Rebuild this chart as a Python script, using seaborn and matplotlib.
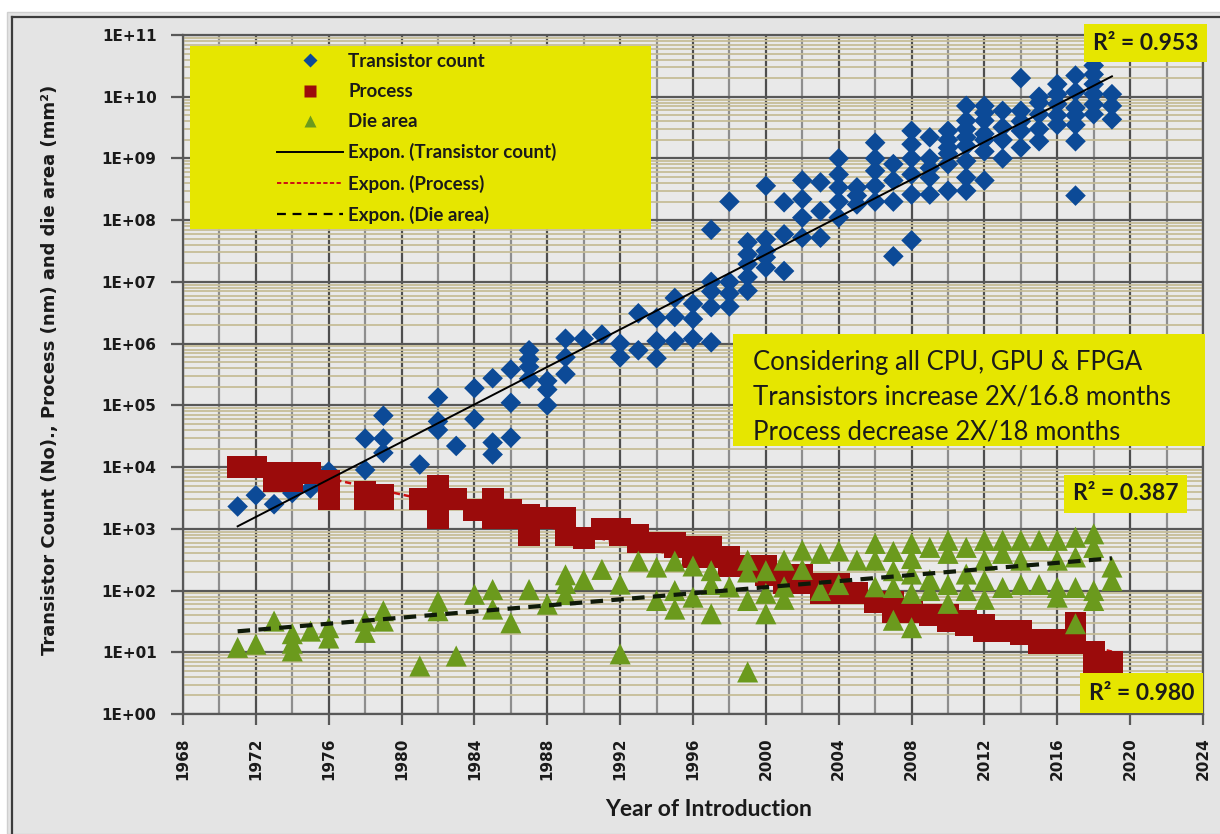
import numpy as np
import pandas as pd
import matplotlib
matplotlib.use("Agg")
import matplotlib.pyplot as plt
from matplotlib.patches import Rectangle
from matplotlib.lines import Line2D
from matplotlib.ticker import MultipleLocator, LogLocator, FuncFormatter, NullFormatter
import seaborn as sns

# ---------------- data ----------------
tc_year = [1971, 1972, 1973, 1974, 1975, 1976,
           1978, 1978, 1979, 1979, 1979, 1981, 1982, 1982, 1982, 1983,
           1984, 1984, 1985, 1985, 1985, 1986, 1986, 1986,
           1987, 1987, 1987, 1987, 1988, 1988, 1988, 1989, 1989, 1989,
           1990, 1991, 1992, 1992, 1993, 1993, 1994, 1994, 1994,
           1995, 1995, 1995, 1996, 1996, 1996,
           1997, 1997, 1997, 1997, 1997, 1998, 1998, 1998, 1998,
           1999, 1999, 1999, 1999, 1999, 2000, 2000, 2000, 2000, 2000,
           2001, 2001, 2001, 2002, 2002, 2002, 2002, 2003, 2003, 2003,
           2004, 2004, 2004, 2004, 2004, 2005, 2005, 2005,
           2006, 2006, 2006, 2006, 2006, 2007, 2007, 2007, 2007,
           2008, 2008, 2008, 2008, 2008, 2008, 2009, 2009, 2009, 2009, 2009,
           2010, 2010, 2010, 2010, 2010, 2010,
           2011, 2011, 2011, 2011, 2011, 2011, 2011, 2011,
           2012, 2012, 2012, 2012, 2012, 2012, 2012, 2013, 2013, 2013, 2013,
           2014, 2014, 2014, 2014, 2014, 2015, 2015, 2015, 2015, 2015,
           2016, 2016, 2016, 2016, 2016, 2017, 2017, 2017, 2017, 2017, 2017, 2017,
           2018, 2018, 2018, 2018, 2018, 2018, 2019, 2019, 2019]
tc_count = [2.3e3, 3.5e3, 2.5e3, 3.8e3, 4.5e3, 8.5e3,
            2.9e4, 9.0e3, 6.8e4, 2.9e4, 1.7e4, 1.1e4, 1.34e5, 5.5e4, 4.0e4, 2.2e4,
            1.9e5, 6.0e4, 2.75e5, 2.5e4, 1.6e4, 3.8e5, 1.1e5, 3.0e4,
            7.8e5, 5.6e5, 4.2e5, 2.7e5, 2.5e5, 1.8e5, 1.0e5, 1.2e6, 6.0e5, 3.2e5,
            1.2e6, 1.4e6, 1.0e6, 6.0e5, 3.1e6, 7.8e5, 2.6e6, 1.1e6, 5.8e5,
            5.5e6, 2.7e6, 1.1e6, 4.4e6, 2.5e6, 1.2e6,
            7.0e7, 1.0e7, 7.0e6, 3.9e6, 1.05e6, 2.0e8, 1.0e7, 6.5e6, 4.0e6,
            4.4e7, 2.8e7, 1.95e7, 1.2e7, 7.2e6, 3.6e8, 4.9e7, 3.2e7, 2.5e7, 1.7e7,
            1.95e8, 5.9e7, 1.5e7, 4.4e8, 2.2e8, 1.1e8, 5.2e7, 4.1e8, 1.4e8, 5.2e7,
            1.0e9, 5.5e8, 3.4e8, 2.0e8, 1.1e8, 3.4e8, 2.5e8, 1.8e8,
            1.8e9, 1.0e9, 6.3e8, 3.6e8, 2.0e8, 8.1e8, 4.4e8, 2.0e8, 2.6e7,
            2.8e9, 1.7e9, 1.0e9, 5.5e8, 2.6e8, 4.7e7, 2.2e9, 1.0e9, 7.0e8, 4.9e8, 2.6e8,
            2.8e9, 2.0e9, 1.5e9, 1.2e9, 8.1e8, 3.0e8,
            7.1e9, 4.1e9, 3.0e9, 2.2e9, 1.6e9, 9.1e8, 4.9e8, 3.0e8,
            7.1e9, 5.5e9, 4.1e9, 2.5e9, 2.0e9, 1.3e9, 4.4e8, 5.9e9, 3.2e9, 2.0e9, 1.0e9,
            2.0e10, 5.9e9, 4.0e9, 2.8e9, 1.5e9, 1.0e10, 8.0e9, 5.2e9, 3.0e9, 1.9e9,
            1.6e10, 1.1e10, 7.6e9, 5.0e9, 3.5e9, 2.2e10, 1.2e10, 6.6e9, 5.0e9, 3.5e9, 1.9e9, 2.5e8,
            3.2e10, 2.3e10, 1.6e10, 1.1e10, 7.5e9, 5.2e9, 1.1e10, 7.1e9, 4.3e9]

proc_year = [1971, 1972, 1973, 1973, 1974, 1974, 1975, 1976, 1976,
             1978, 1978, 1979, 1979, 1981, 1982, 1982, 1982, 1983, 1984,
             1985, 1985, 1986, 1986, 1987, 1987, 1988, 1989, 1989, 1990, 1991,
             1992, 1992, 1993, 1993, 1994, 1995, 1995, 1996, 1996, 1997, 1997,
             1998, 1998, 1999, 2000, 2000, 2001, 2001, 2002, 2002, 2003, 2003,
             2004, 2004, 2005, 2006, 2007, 2007, 2008, 2009, 2010, 2010,
             2011, 2011, 2012, 2012, 2013, 2014, 2014, 2015, 2015, 2016, 2016,
             2017, 2017, 2018, 2018, 2019, 2019]
proc_nm = [10000, 10000, 8000, 6000, 8000, 6000, 8000, 6000, 3000,
           4000, 3000, 3500, 3000, 3000, 5000, 3000, 1500, 3000, 2000,
           3000, 1500, 2000, 1500, 1700, 800, 1500, 1500, 800, 700, 1000,
           1000, 800, 800, 600, 600, 600, 500, 500, 350, 500, 350,
           350, 250, 250, 250, 180, 180, 130, 180, 130, 130, 90,
           130, 90, 90, 65, 65, 45, 45, 40, 40, 32,
           32, 28, 28, 22, 22, 22, 20, 16, 14, 16, 14,
           30, 14, 10, 7, 7, 5]

die_year = [1971, 1972, 1973, 1974, 1974, 1974, 1975, 1976, 1976,
            1978, 1978, 1979, 1979, 1981, 1982, 1982, 1983, 1984, 1985, 1985,
            1986, 1987, 1988, 1989, 1989, 1989, 1990, 1991, 1992, 1992,
            1993, 1994, 1994, 1995, 1995, 1995, 1996, 1996, 1997, 1997, 1997,
            1998, 1999, 1999, 1999, 1999, 2000, 2000, 2000, 2001, 2001, 2001,
            2002, 2002, 2003, 2003, 2004, 2004, 2005, 2006, 2006, 2006,
            2007, 2007, 2007, 2007, 2008, 2008, 2008, 2008, 2008,
            2009, 2009, 2009, 2010, 2010, 2010, 2010, 2011, 2011, 2011,
            2012, 2012, 2012, 2012, 2013, 2013, 2013, 2014, 2014, 2014,
            2015, 2015, 2016, 2016, 2016, 2016, 2017, 2017, 2017, 2017,
            2018, 2018, 2018, 2018, 2019, 2019]
die_mm2 = [12, 13.5, 32, 20, 14, 10.5, 22, 25, 17,
           32, 21, 47, 32, 6, 67, 47, 8.7, 87, 104, 50,
           30, 104, 60, 180, 130, 86, 150, 220, 127, 9.4,
           300, 240, 69, 300, 100, 50, 250, 78, 210, 125, 42,
           115, 310, 200, 69, 4.8, 210, 90, 42, 310, 115, 72,
           450, 220, 400, 100, 440, 125, 310, 580, 310, 115,
           430, 210, 112, 33, 580, 330, 185, 90, 25,
           500, 150, 100, 650, 400, 125, 62,
           500, 185, 100, 650, 310, 145, 72, 650, 400, 112, 650, 310, 125,
           650, 125, 650, 310, 112, 78, 730, 350, 112, 29,
           830, 500, 100, 69, 240, 145]

r2_labels = ["R\u00b2 = 0.953", "R\u00b2 = 0.387", "R\u00b2 = 0.980"]
note_lines = ["Considering all CPU, GPU & FPGA",
              "Transistors increase 2X/16.8 months",
              "Process decrease 2X/18 months"]
series_names = ["Transistor count", "Process", "Die area",
                "Expon. (Transistor count)", "Expon. (Process)", "Expon. (Die area)"]
year_ticks = list(range(1968, 2025, 4))

# ---------------- styling ----------------
BLUE = "#0c4a97"
RED = "#9b0b0b"
GREEN = "#6b9a1d"
YELLOW = "#e6e600"
BG = "#e4e4e4"
W, H = 1220, 834

plt.rcParams["font.family"] = ["DejaVu Sans"]


def fx(px):
    return px / W


def fy(py):
    return 1 - py / H


fig = plt.figure(figsize=(W / 100, H / 100), dpi=100, facecolor="white")

# chart area background and frame
fig.patches.append(Rectangle((fx(7), 0), 1, fy(12), transform=fig.transFigure,
                             facecolor=BG, edgecolor="#cfcfcf", lw=1.0, zorder=-10))
fig.lines.append(Line2D([fx(12), fx(12)], [0, fy(17)], transform=fig.transFigure,
                        color="#3c3c3c", lw=1.6, zorder=-9))
fig.lines.append(Line2D([fx(12), 1], [fy(17), fy(17)], transform=fig.transFigure,
                        color="#3c3c3c", lw=1.6, zorder=-9))

ax = fig.add_axes([fx(183), fy(714), (1203 - 183) / W, (714 - 35) / H])
ax.set_facecolor("#e9e9e9")
ax.set_yscale("log")
ax.set_xlim(1968, 2024)
ax.set_ylim(1, 1e11)

# grid
ax.set_axisbelow(True)
ax.xaxis.set_major_locator(MultipleLocator(4))
ax.xaxis.set_minor_locator(MultipleLocator(2))
ax.yaxis.set_major_locator(LogLocator(base=10, numticks=15))
ax.yaxis.set_minor_locator(LogLocator(base=10, subs=np.arange(2, 10), numticks=15))
ax.yaxis.set_minor_formatter(NullFormatter())
ax.grid(which="minor", axis="y", color="#c6bd98", lw=1.3)
ax.grid(which="major", axis="y", color="#585858", lw=1.6)
ax.grid(which="minor", axis="x", color="#8e8e8e", lw=1.6)
ax.grid(which="major", axis="x", color="#4e4e4e", lw=1.6)
for s in ax.spines.values():
    s.set_color("#585858")
    s.set_linewidth(1.6)

ax.yaxis.set_major_formatter(FuncFormatter(lambda v, p: f"1E+{int(round(np.log10(v))):02d}"))
ax.set_xticks(year_ticks)
ax.tick_params(axis="x", which="major", length=8, width=1.6, color="#585858",
               pad=9, labelrotation=90, labelsize=11)
ax.tick_params(axis="y", which="major", length=9, width=1.6, color="#585858",
               pad=10, labelsize=11)
ax.tick_params(which="minor", length=0)
for lab in ax.get_xticklabels() + ax.get_yticklabels():
    lab.set_fontweight("bold")
    lab.set_color("#1a1a1a")

# scatter series
tc = pd.DataFrame({"year": tc_year, "count": tc_count})
pr = pd.DataFrame({"year": proc_year, "nm": proc_nm})
da = pd.DataFrame({"year": die_year, "mm2": die_mm2})
sns.scatterplot(data=tc, x="year", y="count", marker="D", s=110, color=BLUE,
                edgecolor="none", linewidth=0, ax=ax, zorder=3, legend=False)
sns.scatterplot(data=pr, x="year", y="nm", marker="s", s=250, color=RED,
                edgecolor="none", linewidth=0, ax=ax, zorder=3, legend=False)
sns.scatterplot(data=da, x="year", y="mm2", marker="^", s=230, color=GREEN,
                edgecolor="none", linewidth=0, ax=ax, zorder=3, legend=False)


# exponential trend lines (least squares in log space)
def exp_trend(x, y):
    x = np.asarray(x, float)
    coef = np.polyfit(x, np.log10(np.asarray(y, float)), 1)
    xx = np.linspace(x.min(), x.max(), 50)
    return xx, 10 ** np.polyval(coef, xx)


xx, yy = exp_trend(tc_year, tc_count)
ax.plot(xx, yy, color="black", lw=1.4, zorder=4)
xx, yy = exp_trend(proc_year, proc_nm)
ax.plot(xx, yy, color="#cc1111", lw=1.8, dashes=(2.5, 1.5), zorder=2.5)
xx, yy = exp_trend(die_year, die_mm2)
ax.plot(xx, yy, color="#0f1a0a", lw=3.0, dashes=(3.0, 2.0), zorder=4)

ax.set_xlabel("")
ax.set_ylabel("")


def box(x0, y0, x1, y1):
    ax.add_patch(Rectangle((fx(x0), fy(y1)), (x1 - x0) / W, (y1 - y0) / H,
                           transform=fig.transFigure, facecolor=YELLOW,
                           edgecolor="none", zorder=6, clip_on=False))


# legend panel
box(190, 46, 651, 229)
handles = [
    Line2D([], [], ls="none", marker="D", ms=7, color=BLUE, mec="none"),
    Line2D([], [], ls="none", marker="s", ms=9, color=RED, mec="none"),
    Line2D([], [], ls="none", marker="^", ms=9, color=GREEN, mec="none"),
    Line2D([], [], color="black", lw=1.4),
    Line2D([], [], color="#cc1111", lw=1.4, dashes=(2.2, 1.2)),
    Line2D([], [], color="black", lw=1.6, dashes=(4, 3)),
]
leg = ax.legend(handles, series_names, loc="upper left",
                bbox_to_anchor=(fx(277), fy(53)), bbox_transform=fig.transFigure,
                frameon=False, handlelength=3.5, handletextpad=0.3,
                labelspacing=0.7, borderpad=0, borderaxespad=0,
                prop={"family": "Lato", "weight": "bold", "size": 13.5})
leg.set_zorder(7)
for t in leg.get_texts():
    t.set_color("#1a1a1a")

# annotation panel
box(733, 334, 1205, 446)
for i, line in enumerate(note_lines):
    ax.text(fx(753), fy(363 + 34.5 * i), line, transform=fig.transFigure,
            ha="left", va="center", fontsize=18.5, family="Lato", color="#1a1a1a",
            zorder=7, clip_on=False)

# R-squared labels
r2_boxes = [(1084, 24, 1207, 62), (1064, 475, 1187, 513), (1080, 673, 1203, 713)]
for (x0, y0, x1, y1), lab in zip(r2_boxes, r2_labels):
    box(x0, y0, x1, y1)
    ax.text(fx((x0 + x1) / 2), fy((y0 + y1) / 2), lab, transform=fig.transFigure,
            ha="center", va="center", fontsize=16.5, family="Lato", weight="bold",
            color="#1a1a1a", zorder=7, clip_on=False)

# axis titles
fig.text(fx(50), fy(370), "Transistor Count (No)., Process (nm) and die area (mm\u00b2)",
         rotation=90, ha="center", va="center", fontsize=13, weight="bold",
         color="#1a1a1a")
fig.text(fx(709), fy(810), "Year of Introduction", ha="center", va="center",
         fontsize=16.5, family="Lato", weight="bold", color="#1a1a1a")

fig.savefig("out.png", dpi=100, facecolor=fig.get_facecolor())
